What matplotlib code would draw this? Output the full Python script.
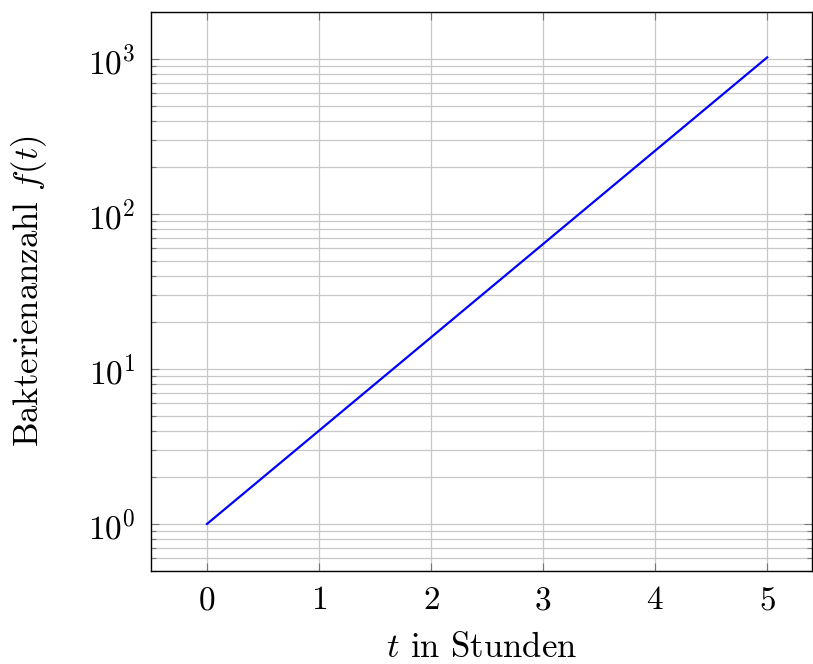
import numpy as np
import matplotlib
matplotlib.use("Agg")
from matplotlib import pyplot as plt
from matplotlib.ticker import LogLocator, NullFormatter

plt.rcParams['font.family'] = 'cmr10'
plt.rcParams['mathtext.fontset'] = 'cm'
plt.rcParams['axes.formatter.use_mathtext'] = True

# bacteria count, quadruples every hour
t = [0, 1, 2, 3, 4, 5]
f = [1, 4, 16, 64, 256, 1024]
xticks = [0, 1, 2, 3, 4, 5]

fig = plt.figure(figsize=(8.13, 6.64), dpi=100)
ax = fig.add_axes([151/813, 1 - 571/664, (812-151)/813, (571-12)/664])

ax.plot(t, f, color='blue', lw=1.6, zorder=3)
ax.set_yscale('log')
ax.set_xlim(-0.5, 5.4)
ax.set_ylim(0.497, 2010)
ax.set_xticks(xticks)
ax.yaxis.set_major_locator(LogLocator(base=10, numticks=10))
ax.yaxis.set_minor_locator(LogLocator(base=10, subs=np.arange(2, 10), numticks=20))
ax.yaxis.set_minor_formatter(NullFormatter())

ax.grid(True, which='major', color='#c8c8c8', lw=0.9)
ax.grid(True, which='minor', axis='y', color='#c8c8c8', lw=0.9)
ax.set_axisbelow(True)

ax.tick_params(which='both', direction='in', top=True, right=True, color='#777777',
               labelsize=24, pad=11)
ax.tick_params(which='major', length=6, width=0.8)
ax.tick_params(which='minor', length=3.5, width=0.8)
for s in ax.spines.values():
    s.set_linewidth(1.0)

ax.set_xlabel('$t$ in Stunden', fontsize=25, labelpad=12)
ax.set_ylabel('Bakterienanzahl $f(t)$', fontsize=25, labelpad=28)

plt.savefig('out.png', dpi=100)
